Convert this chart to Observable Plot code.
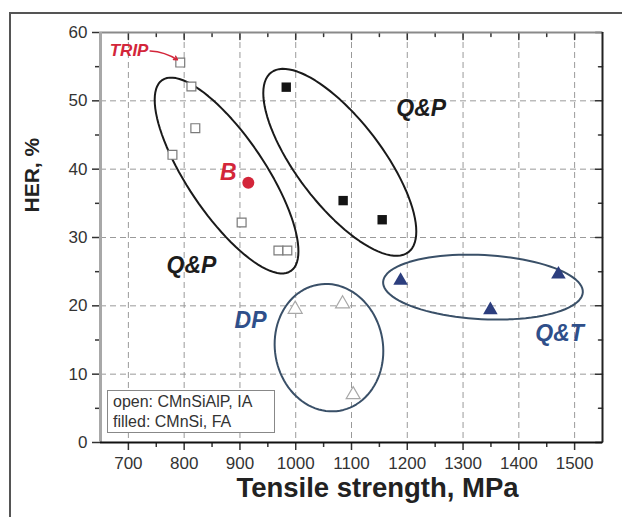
<!DOCTYPE html>
<html><head><meta charset="utf-8">
<script src="https://cdn.jsdelivr.net/npm/d3@7"></script>
<script src="https://cdn.jsdelivr.net/npm/@observablehq/plot@0.6"></script>
<style>
body{margin:0;background:#fff;}
#wrap{position:relative;width:622px;height:517px;overflow:hidden;font-family:"Liberation Sans",Arial,sans-serif;}
#wrap svg{position:absolute;left:0;top:0;}
#frame{position:absolute;left:9px;top:12px;width:640px;height:520px;border-left:2px solid #555;border-top:2px solid #555;box-sizing:border-box;z-index:1;}
#legend{position:absolute;left:107px;top:390px;width:168px;height:43px;border:1.5px solid #888;background:#fff;font-size:16px;line-height:20px;padding:1px 5px;box-sizing:border-box;color:#333;z-index:2;white-space:nowrap;}
</style></head>
<body><div id="wrap"><div id="frame"></div><div id="legend">open: CMnSiAlP, IA<br>filled: CMnSi, FA</div></div>
<script>
// Data (Tensile strength MPa, HER %)
const openSqX = [793, 813, 820, 779, 903, 969, 985];
const openSqY = [55.6, 52.1, 46.0, 42.1, 32.2, 28.1, 28.1];
const filledSqX = [983, 1085, 1155];
const filledSqY = [52.0, 35.4, 32.6];
const bainiteX = [915];
const bainiteY = [38.0];
const dpX = [999, 1084, 1103];
const dpY = [19.5, 20.3, 7.0];
const qtX = [1188, 1349, 1471];
const qtY = [23.7, 19.4, 24.6];

const xTicks = [700, 800, 900, 1000, 1100, 1200, 1300, 1400, 1500];
const xMinor = [750, 850, 950, 1050, 1150, 1250, 1350, 1450];
const yTicks = [0, 10, 20, 30, 40, 50, 60];
const yMinor = [5, 15, 25, 35, 45, 55];
const xGrid = [700, 800, 900, 1000, 1100, 1200, 1300, 1400, 1500];
const yGrid = [10, 20, 30, 40, 50];

// Group annotations (data coordinates)
const labelText = ["Q&P", "Q&P", "DP", "Q&T", "B"];
const labelX = [813, 1225, 919, 1473, 879];
const labelY = [25.9, 48.9, 17.8, 15.9, 39.5];
const labelColor = ["#1c1c1c", "#1c1c1c", "#2f4f8a", "#2f4f8a", "#d3263a"];

// Ellipses: centre and two semi-axis vectors, in data units
const ellCX = [876, 1079, 1059.6, 1335.7];
const ellCY = [39.07, 41.0, 13.88, 22.74];
const ellAX = [115.3, 123, 19.7, 179];
const ellAY = [-13.97, -13.15, -9.22, -0.76];
const ellBX = [-57.5, -60.7, -95.4, -3.0];
const ellBY = [-3.2, -3.79, -1.38, -4.69];
const ellColor = ["#1a1a1a", "#1a1a1a", "#3a5068", "#3a5068"];

const zip = (xs, ys) => xs.map((x, i) => ({x, y: ys[i]}));
const openSq = zip(openSqX, openSqY);
const filledSq = zip(filledSqX, filledSqY);
const bainite = zip(bainiteX, bainiteY);
const dp = zip(dpX, dpY);
const qt = zip(qtX, qtY);
const labels = labelText.map((t, i) => ({t, x: labelX[i], y: labelY[i], c: labelColor[i]}));

const ellPts = [];
ellCX.forEach((cx, k) => {
  for (let j = 0; j <= 96; j++) {
    const a = j / 96 * 2 * Math.PI;
    ellPts.push({k, c: ellColor[k],
      x: cx + ellAX[k] * Math.cos(a) + ellBX[k] * Math.sin(a),
      y: ellCY[k] + ellAY[k] * Math.cos(a) + ellBY[k] * Math.sin(a)});
  }
});

const tickShape = {draw(ctx, l) { ctx.moveTo(0, 0); ctx.lineTo(0, -l); }};
const red = "#d3263a";

const chart = Plot.plot({
  width: 622, height: 517,
  marginLeft: 100, marginRight: 20, marginTop: 32, marginBottom: 75,
  style: {fontFamily: "'Liberation Sans', Arial, sans-serif", background: "transparent", color: "#333"},
  x: {domain: [650, 1550]},
  y: {domain: [0, 60]},
  marks: [
    Plot.ruleX(xGrid, {stroke: "#9a9a9a", strokeDasharray: "6,4", strokeWidth: 1}),
    Plot.ruleY(yGrid, {stroke: "#9a9a9a", strokeDasharray: "6,4", strokeWidth: 1}),
    Plot.line(ellPts, {x: "x", y: "y", z: "k", stroke: "c", strokeWidth: 2, curve: "linear"}),
    Plot.axisX({ticks: xTicks, tickSize: 8, tickPadding: 6, fontSize: 17, tickFormat: d => String(d), label: null, strokeWidth: 1.5}),
    Plot.axisX({ticks: xMinor, tickSize: 5, tickFormat: () => "", label: null, strokeWidth: 1.5}),
    Plot.axisY({ticks: yTicks, tickSize: 8, tickPadding: 5, fontSize: 17, tickFormat: d => String(d), label: null, strokeWidth: 1.5}),
    Plot.axisY({ticks: yMinor, tickSize: 5, tickFormat: () => "", label: null, strokeWidth: 1.5}),
    Plot.vector(xTicks, {x: d => d, y: () => 60, length: 7, rotate: 180, anchor: "start", shape: tickShape, stroke: "#333", strokeWidth: 1.5}),
    Plot.vector(xMinor, {x: d => d, y: () => 60, length: 4, rotate: 180, anchor: "start", shape: tickShape, stroke: "#333", strokeWidth: 1.5}),
    Plot.vector(yTicks, {x: () => 1550, y: d => d, length: 7, rotate: -90, anchor: "start", shape: tickShape, stroke: "#333", strokeWidth: 1.5}),
    Plot.vector(yMinor, {x: () => 1550, y: d => d, length: 4, rotate: -90, anchor: "start", shape: tickShape, stroke: "#333", strokeWidth: 1.5}),
    Plot.ruleY([60], {stroke: "#8a8a8a", strokeWidth: 2}),
    Plot.ruleX([1550], {stroke: "#222", strokeWidth: 2}),
    Plot.ruleX([650], {stroke: "#a8a8a8", strokeWidth: 3}),
    Plot.ruleY([0], {stroke: "#111", strokeWidth: 2}),
    Plot.dot(openSq, {x: "x", y: "y", symbol: "square", r: 5, stroke: "#7a7a7a", strokeWidth: 1.2, fill: "white"}),
    Plot.dot(filledSq, {x: "x", y: "y", symbol: "square", r: 5.3, fill: "#141414"}),
    Plot.dot(bainite, {x: "x", y: "y", symbol: "circle", r: 6, fill: red}),
    Plot.dot(dp, {x: "x", y: "y", symbol: "triangle", r: 5.2, stroke: "#a8a8a8", strokeWidth: 1.2, fill: "white"}),
    Plot.dot(qt, {x: "x", y: "y", symbol: "triangle", r: 5.4, fill: "#2c3e7e"}),
    Plot.text(labels, {x: "x", y: "y", text: "t", fill: "c", fontSize: 23, fontWeight: "bold", fontStyle: "italic"}),
    Plot.text(["TRIP"], {x: () => 736, y: () => 57.4, text: d => d, textAnchor: "end", fill: red, fontSize: 17, fontWeight: "bold", fontStyle: "italic"}),
    Plot.arrow(["TRIP"], {x1: () => 739, y1: () => 57.3, x2: () => 788, y2: () => 56.0, bend: 15, stroke: red, strokeWidth: 1.5, headLength: 4}),
    Plot.text(["Tensile strength, MPa"], {frameAnchor: "bottom", dx: 26, dy: 54, text: d => d, fontSize: 27.5, fontWeight: "bold", fill: "#222"}),
    Plot.text(["HER, %"], {frameAnchor: "left", dx: -68, dy: -25, rotate: -90, text: d => d, fontSize: 21, fontWeight: "bold", fill: "#222"})
  ]
});
document.getElementById("wrap").prepend(chart);
</script>
</body></html>
